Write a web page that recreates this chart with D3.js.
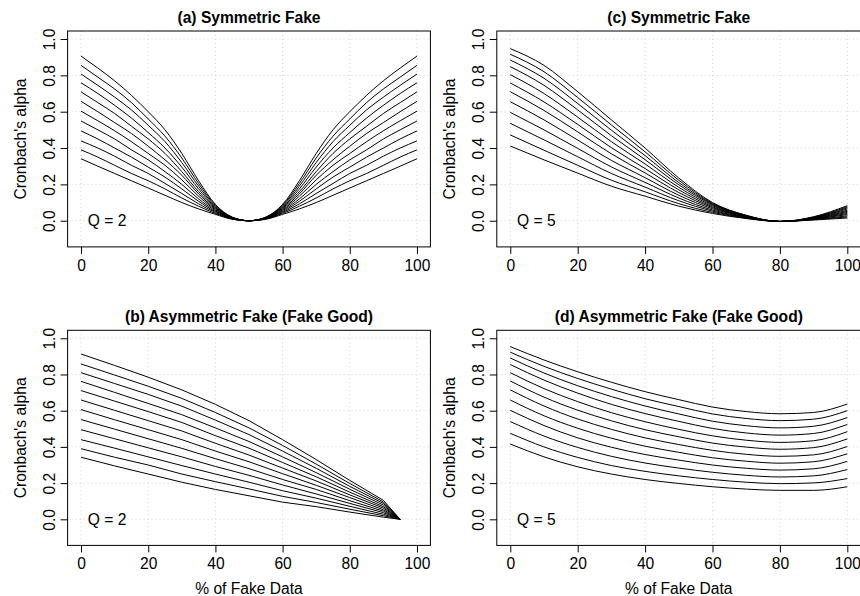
<!DOCTYPE html>
<html>
<head>
<meta charset="utf-8">
<script src="https://cdn.jsdelivr.net/npm/d3@7"></script>
<style>
  body { margin: 0; background: #fff; }
  svg text { font-family: "Liberation Sans", Arial, Helvetica, sans-serif; fill: #000; }
</style>
</head>
<body>
<svg width="860" height="596"></svg>
<script>
const svg = d3.select('svg');

// ---- data ----
const xTicks = [0, 20, 40, 60, 80, 100];
const yTicks = [0, 0.2, 0.4, 0.6, 0.8, 1.0];

// (a) symmetric fake, Q = 2
const pctA = [0,5,10,15,20,25,30,35,40,45,50,55,60,65,70,75,80,85,90,95,100];
const alphaA = [
  [0.906,0.84,0.77,0.69,0.60,0.50,0.37,0.22,0.09,0.02,0,0.02,0.09,0.22,0.37,0.50,0.60,0.69,0.77,0.84,0.906],
  [0.855,0.79,0.725,0.65,0.56,0.465,0.345,0.205,0.085,0.019,0,0.019,0.085,0.205,0.345,0.465,0.56,0.65,0.725,0.79,0.855],
  [0.807,0.745,0.68,0.61,0.525,0.435,0.32,0.19,0.08,0.018,0,0.018,0.08,0.19,0.32,0.435,0.525,0.61,0.68,0.745,0.807],
  [0.759,0.70,0.635,0.565,0.485,0.40,0.295,0.175,0.075,0.017,0,0.017,0.075,0.175,0.295,0.40,0.485,0.565,0.635,0.70,0.759],
  [0.709,0.65,0.59,0.52,0.45,0.37,0.27,0.16,0.07,0.016,0,0.016,0.07,0.16,0.27,0.37,0.45,0.52,0.59,0.65,0.709],
  [0.657,0.60,0.54,0.48,0.41,0.335,0.25,0.148,0.065,0.015,0,0.015,0.065,0.148,0.25,0.335,0.41,0.48,0.54,0.60,0.657],
  [0.603,0.55,0.495,0.435,0.37,0.305,0.225,0.135,0.06,0.014,0,0.014,0.06,0.135,0.225,0.305,0.37,0.435,0.495,0.55,0.603],
  [0.549,0.50,0.45,0.39,0.335,0.27,0.20,0.12,0.055,0.013,0,0.013,0.055,0.12,0.20,0.27,0.335,0.39,0.45,0.50,0.549],
  [0.494,0.45,0.40,0.35,0.295,0.24,0.175,0.107,0.05,0.012,0,0.012,0.05,0.107,0.175,0.24,0.295,0.35,0.40,0.45,0.494],
  [0.439,0.40,0.355,0.305,0.26,0.205,0.15,0.093,0.045,0.011,0,0.011,0.045,0.093,0.15,0.205,0.26,0.305,0.355,0.40,0.439],
  [0.390,0.35,0.305,0.26,0.22,0.175,0.125,0.08,0.04,0.01,0,0.01,0.04,0.08,0.125,0.175,0.22,0.26,0.305,0.35,0.390],
  [0.341,0.30,0.26,0.22,0.18,0.14,0.10,0.065,0.035,0.008,0,0.008,0.035,0.065,0.10,0.14,0.18,0.22,0.26,0.30,0.341]
];

// (b) asymmetric fake (fake good), Q = 2
const pctB = [0,10,20,30,40,50,60,70,80,90,95];
const alphaB = [
  [0.913,0.85,0.785,0.715,0.635,0.545,0.44,0.33,0.215,0.105,0],
  [0.858,0.797,0.735,0.668,0.59,0.505,0.408,0.305,0.198,0.096,0],
  [0.810,0.75,0.69,0.625,0.548,0.468,0.377,0.282,0.182,0.088,0],
  [0.762,0.701,0.64,0.578,0.505,0.43,0.345,0.258,0.166,0.079,0],
  [0.711,0.653,0.595,0.535,0.462,0.393,0.314,0.235,0.15,0.07,0],
  [0.659,0.602,0.545,0.488,0.42,0.355,0.283,0.212,0.135,0.062,0],
  [0.606,0.55,0.495,0.44,0.377,0.318,0.252,0.188,0.12,0.053,0],
  [0.551,0.498,0.445,0.392,0.335,0.28,0.22,0.165,0.103,0.045,0],
  [0.495,0.445,0.395,0.345,0.292,0.243,0.19,0.14,0.088,0.037,0],
  [0.440,0.393,0.345,0.297,0.25,0.205,0.158,0.117,0.072,0.028,0],
  [0.390,0.343,0.30,0.25,0.208,0.168,0.127,0.093,0.056,0.02,0],
  [0.343,0.295,0.25,0.205,0.165,0.13,0.095,0.07,0.04,0.012,0]
];

// (c) symmetric fake, Q = 5
const pctC = [0,10,20,30,40,50,60,70,80,90,100];
const alphaC = [
  [0.947,0.855,0.71,0.555,0.40,0.235,0.10,0.03,-0.004,0.022,0.083],
  [0.916,0.82,0.678,0.527,0.379,0.223,0.096,0.029,-0.004,0.020,0.077],
  [0.884,0.784,0.645,0.498,0.358,0.21,0.092,0.028,-0.004,0.018,0.071],
  [0.848,0.745,0.61,0.468,0.336,0.198,0.088,0.026,-0.004,0.016,0.065],
  [0.804,0.70,0.57,0.435,0.312,0.184,0.083,0.025,-0.004,0.015,0.058],
  [0.758,0.654,0.53,0.402,0.287,0.17,0.077,0.023,-0.004,0.013,0.052],
  [0.710,0.607,0.489,0.368,0.263,0.155,0.072,0.021,-0.004,0.012,0.046],
  [0.655,0.555,0.444,0.332,0.237,0.14,0.066,0.02,-0.004,0.01,0.04],
  [0.596,0.50,0.398,0.296,0.211,0.125,0.059,0.018,-0.004,0.009,0.034],
  [0.536,0.445,0.352,0.26,0.185,0.11,0.053,0.016,-0.004,0.007,0.027],
  [0.472,0.388,0.305,0.223,0.159,0.094,0.046,0.014,-0.004,0.006,0.021],
  [0.411,0.335,0.262,0.19,0.135,0.08,0.04,0.012,-0.004,0.004,0.015]
];

// (d) asymmetric fake (fake good), Q = 5
const pctD = [0,10,20,30,40,50,60,70,80,90,100];
const alphaD = [
  [0.954,0.88,0.815,0.757,0.705,0.661,0.62,0.595,0.583,0.59,0.637],
  [0.923,0.845,0.778,0.719,0.666,0.623,0.582,0.557,0.545,0.553,0.600],
  [0.891,0.808,0.738,0.678,0.626,0.582,0.542,0.517,0.505,0.514,0.562],
  [0.855,0.769,0.697,0.635,0.584,0.541,0.502,0.477,0.465,0.474,0.524],
  [0.810,0.722,0.65,0.589,0.539,0.497,0.461,0.437,0.425,0.434,0.484],
  [0.764,0.675,0.603,0.544,0.495,0.456,0.421,0.399,0.387,0.396,0.444],
  [0.715,0.626,0.554,0.497,0.45,0.413,0.381,0.359,0.348,0.356,0.402],
  [0.659,0.572,0.503,0.448,0.404,0.37,0.34,0.321,0.31,0.318,0.362],
  [0.602,0.518,0.45,0.398,0.358,0.327,0.30,0.282,0.272,0.279,0.32],
  [0.540,0.46,0.397,0.348,0.311,0.283,0.26,0.243,0.234,0.24,0.275],
  [0.475,0.40,0.342,0.297,0.265,0.24,0.22,0.205,0.197,0.201,0.225],
  [0.416,0.345,0.29,0.25,0.22,0.198,0.18,0.167,0.16,0.16,0.18]
];

const titles = ['(a) Symmetric Fake', '(b) Asymmetric Fake (Fake Good)',
                '(c) Symmetric Fake', '(d) Asymmetric Fake (Fake Good)'];
const qLabels = ['Q = 2', 'Q = 2', 'Q = 5', 'Q = 5'];
const xTitle = '% of Fake Data';
const yTitle = "Cronbach's alpha";

// ---- layout (R-like mfrow 2x2) ----
const fontSize = 15.6;
const cols = [{ left: 67.6, right: 430.4 }, { left: 496.8, right: 860.8 }];
const rows = [{ top: 31.0, bottom: 246.9 }, { top: 330.3, bottom: 545.4 }];

const panels = [
  { title: titles[0], q: qLabels[0], pct: pctA, series: alphaA, col: 0, row: 0, curve: d3.curveMonotoneX },
  { title: titles[1], q: qLabels[1], pct: pctB, series: alphaB, col: 0, row: 1, curve: d3.curveLinear },
  { title: titles[2], q: qLabels[2], pct: pctC, series: alphaC, col: 1, row: 0, curve: d3.curveMonotoneX },
  { title: titles[3], q: qLabels[3], pct: pctD, series: alphaD, col: 1, row: 1, curve: d3.curveMonotoneX }
];

const drawPanel = (selection, p) => {
  const { left, right } = cols[p.col];
  const { top, bottom } = rows[p.row];

  // R pads the data range by 4% on each side
  const x = d3.scaleLinear().domain([-4, 104]).range([left, right]);
  const y = d3.scaleLinear().domain([-0.144, 1.044]).range([bottom, top]);

  const g = selection.append('g');

  // dotted grid
  g.selectAll('.vgrid').data(xTicks).join('line')
    .attr('class', 'vgrid')
    .attr('x1', d => x(d)).attr('x2', d => x(d))
    .attr('y1', top).attr('y2', bottom);
  g.selectAll('.hgrid').data(yTicks).join('line')
    .attr('class', 'hgrid')
    .attr('x1', left).attr('x2', right)
    .attr('y1', d => y(d)).attr('y2', d => y(d));
  g.selectAll('.vgrid, .hgrid')
    .attr('stroke', '#d3d3d3')
    .attr('stroke-width', 1)
    .attr('stroke-dasharray', '1,3');

  // curves
  const line = d3.line()
    .x((d, i) => x(p.pct[i]))
    .y(d => y(d))
    .curve(p.curve);
  g.selectAll('.curve').data(p.series).join('path')
    .attr('class', 'curve')
    .attr('d', line)
    .attr('fill', 'none')
    .attr('stroke', '#000')
    .attr('stroke-width', 1);

  // box
  g.append('rect')
    .attr('x', left).attr('y', top)
    .attr('width', right - left).attr('height', bottom - top)
    .attr('fill', 'none').attr('stroke', '#000').attr('stroke-width', 1);

  // x axis
  const xAxisG = g.append('g')
    .attr('transform', `translate(0,${bottom})`)
    .call(d3.axisBottom(x).tickValues(xTicks).tickSize(7).tickPadding(6));
  xAxisG.select('.domain').remove();
  xAxisG.attr('font-size', fontSize).attr('font-family', null);
  xAxisG.selectAll('line').attr('stroke', '#000');

  // y axis, labels parallel to the axis
  const yAxisG = g.append('g')
    .attr('transform', `translate(${left},0)`)
    .call(d3.axisLeft(y).tickValues(yTicks).tickSize(7).tickFormat(d3.format('.1f')));
  yAxisG.select('.domain').remove();
  yAxisG.attr('font-size', fontSize).attr('font-family', null);
  yAxisG.selectAll('line').attr('stroke', '#000');
  yAxisG.selectAll('text')
    .attr('x', 0).attr('dy', 0)
    .attr('text-anchor', 'middle')
    .attr('transform', 'translate(-12.6,0) rotate(-90)');

  // title
  g.append('text')
    .attr('x', (left + right) / 2).attr('y', top - 8.5)
    .attr('text-anchor', 'middle')
    .attr('font-size', fontSize).attr('font-weight', 'bold')
    .text(p.title);

  // y label
  g.append('text')
    .attr('transform', `translate(${left - 42},${(top + bottom) / 2}) rotate(-90)`)
    .attr('text-anchor', 'middle')
    .attr('font-size', fontSize)
    .text(yTitle);

  // x label only under the bottom row
  if (p.row === 1) {
    g.append('text')
      .attr('x', (left + right) / 2).attr('y', bottom + 48.5)
      .attr('text-anchor', 'middle')
      .attr('font-size', fontSize)
      .text(xTitle);
  }

  // Q annotation
  g.append('text')
    .attr('x', x(2)).attr('y', y(0) + 5.6)
    .attr('font-size', fontSize)
    .text(p.q);
};

panels.forEach(p => svg.call(drawPanel, p));
</script>
</body>
</html>
